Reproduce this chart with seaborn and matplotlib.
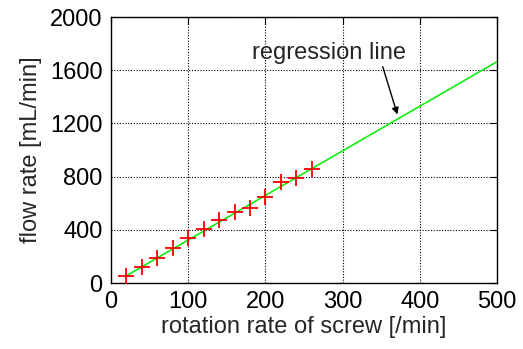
import matplotlib
matplotlib.use("Agg")
import matplotlib.pyplot as plt
import seaborn as sns
import pandas as pd

# measured data
rotation = [20, 40, 60, 80, 100, 120, 140, 160, 180, 200, 220, 240, 260]
flow = [54, 122, 191, 263, 341, 410, 472, 532, 567, 649, 759, 789, 860]

# regression line endpoints
reg_x = [20, 500]
reg_y = [55, 1665]

x_ticks = [0, 100, 200, 300, 400, 500]
y_ticks = [0, 400, 800, 1200, 1600, 2000]

sns.set_style("white")
plt.rcParams['font.family'] = ['Liberation Sans', 'DejaVu Sans']

fig = plt.figure(figsize=(5.23, 3.49), dpi=100)
ax = fig.add_axes([0.2122, 0.189, 0.7381, 0.762])

df_pts = pd.DataFrame({"x": rotation, "y": flow})
df_reg = pd.DataFrame({"x": reg_x, "y": reg_y})

sns.lineplot(data=df_reg, x="x", y="y", ax=ax, color="#00ee00", linewidth=1.1, zorder=3)
sns.scatterplot(data=df_pts, x="x", y="y", ax=ax, marker="+", color="red",
                s=130, linewidth=1.3, zorder=4)

ax.set_xlim(0, 500)
ax.set_ylim(0, 2000)
ax.set_xticks(x_ticks)
ax.set_yticks(y_ticks)
ax.grid(True, linestyle=(0, (1, 1.5)), color="black", linewidth=0.8)
ax.tick_params(direction="in", top=True, right=True, length=5, width=0.8,
               labelsize=17, pad=6, colors="black")
for s in ax.spines.values():
    s.set_color("black")
    s.set_linewidth(1.0)
    s.set_visible(True)

ax.set_xlabel("rotation rate of screw [/min]", fontsize=17, labelpad=2)
ax.set_ylabel("flow rate [mL/min]", fontsize=17, labelpad=6)

ax.text(282, 1731, "regression line", fontsize=17, ha="center", va="center")
ax.annotate("", xy=(371, 1267), xytext=(352, 1627),
            arrowprops=dict(arrowstyle="-|>", color="black", lw=1.0,
                            shrinkA=0, shrinkB=0, mutation_scale=10))

fig.savefig("out.png", dpi=100)
